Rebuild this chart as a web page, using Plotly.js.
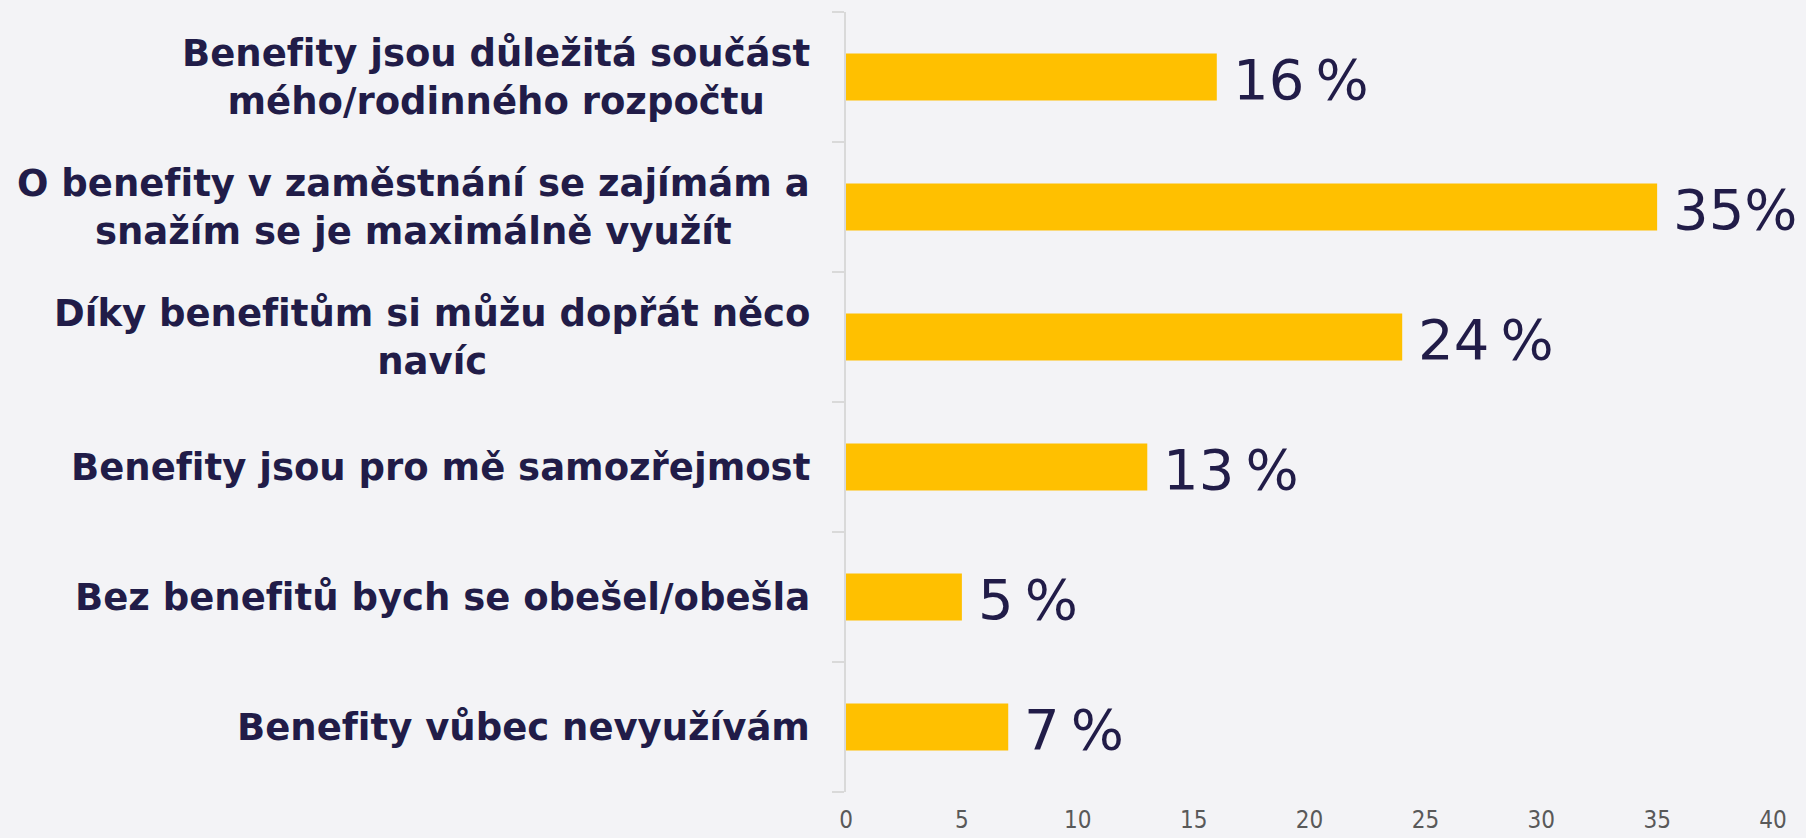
<!DOCTYPE html>
<html>
<head>
<meta charset="utf-8">
<script src="https://cdn.plot.ly/plotly-3.0.1.min.js"></script>
<style>
  html, body { margin: 0; padding: 0; background: #F3F3F6; }
  #chart { width: 1806px; height: 838px; }
  svg text { font-variant-ligatures: none; font-feature-settings: "liga" 0, "clig" 0; }
</style>
</head>
<body>
<div id="chart"></div>
<script>
const categories = [
  "Benefity jsou důležitá součást<br>mého/rodinného rozpočtu",
  "O benefity v zaměstnání se zajímám a<br>snažím se je maximálně využít",
  "Díky benefitům si můžu dopřát něco<br>navíc",
  "Benefity jsou pro mě samozřejmost",
  "Bez benefitů bych se obešel/obešla",
  "Benefity vůbec nevyužívám"
];
const values = [16, 35, 24, 13, 5, 7];
const valueLabels = ["16\u2009%", "35%", "24\u2009%", "13\u2009%", "5\u2009%", "7\u2009%"];
const xTicks = [0, 5, 10, 15, 20, 25, 30, 35, 40];

const navy = "#211C48";
const ids = categories.map((c, i) => i);

const trace = {
  type: "bar",
  orientation: "h",
  x: values,
  y: ids,
  marker: { color: "#FFC000" },
  width: 0.36,
  hoverinfo: "skip"
};

const annotations = [];
categories.forEach((c, i) => {
  annotations.push({
    xref: "paper", yref: "y", x: 0, y: ids[i],
    text: c, showarrow: false, xanchor: "right", yanchor: "middle",
    align: "center", xshift: -34,
    font: { family: "DejaVu Sans", size: 37, color: navy, weight: "bold" }
  });
  annotations.push({
    xref: "x", yref: "y", x: values[i], y: ids[i],
    text: valueLabels[i], showarrow: false, xanchor: "left", yanchor: "middle",
    xshift: 14, yshift: -2,
    font: { family: "DejaVu Sans", size: 56, color: navy }
  });
});

const layout = {
  width: 1806, height: 838,
  paper_bgcolor: "#F3F3F6", plot_bgcolor: "#F3F3F6",
  margin: { l: 846, r: 33, t: 12, b: 46 },
  showlegend: false,
  xaxis: {
    range: [0, 40], tickvals: xTicks, ticktext: xTicks.map(String),
    showgrid: false, zeroline: false, showline: false, ticks: "",
    tickfont: { family: "DejaVu Sans Condensed, DejaVu Sans", size: 24, color: "#595959" },
    ticklabelstandoff: 11
  },
  yaxis: {
    type: "linear", range: [5.5, -0.5], showticklabels: false,
    tickvals: [-0.5, 0.5, 1.5, 2.5, 3.5, 4.5, 5.5],
    ticks: "outside", ticklen: 12, tickwidth: 2, tickcolor: "#D9D9D9",
    showline: true, linecolor: "#D9D9D9", linewidth: 2,
    showgrid: false, zeroline: false
  },
  annotations: annotations
};

Plotly.newPlot("chart", [trace], layout, { displayModeBar: false, staticPlot: true });
</script>
</body>
</html>
